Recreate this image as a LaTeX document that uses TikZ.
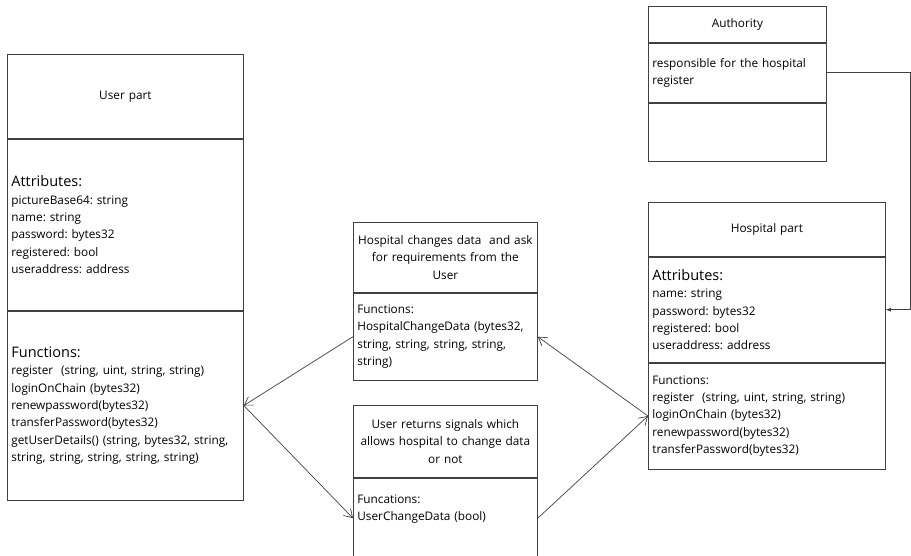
\documentclass[tikz,border=0pt]{standalone}
\usepackage{fontspec}
\setmainfont{Open Sans}
\usetikzlibrary{arrows.meta}
\frenchspacing

\newcommand{\compttl}[1]{{\fontsize{14.5}{17}\selectfont #1}}

\tikzset{
  compart/.style={draw=black!75,line width=.8pt,anchor=north west,inner xsep=4pt,inner ysep=0pt,
    align=left,text=black,font=\fontsize{11.8}{17.4}\selectfont},
  link/.style={draw=black!75,line width=.7pt},
  barb/.style={-{Straight Barb[length=8pt,width=10pt]}}
}

\begin{document}
\begin{tikzpicture}[x=1pt,y=-1pt]
  \useasboundingbox (0,0) rectangle (911,555);

  % user part
  \node[compart,text width=228pt,minimum height=84pt,align=center] (uhead) at (7,54) {User part};
  \node[compart,text width=228pt,minimum height=171pt] (uattr) at (uhead.south west)
    {\compttl{Attributes:}\\pictureBase64: string\\name: string\\password: bytes32\\registered: bool\\useraddress: address};
  \node[compart,text width=228pt,minimum height=189pt] (ufun) at (uattr.south west)
    {\compttl{Functions:}\\register~ (string, uint, string, string)\\loginOnChain (bytes32)\\renewpassword(bytes32)\\transferPassword(bytes32)\\getUserDetails() (string, bytes32, string,\\string, string, string, string, string)};

  % hospital changes data
  \node[compart,text width=176pt,minimum height=70pt,align=center] (hchead) at (353,222)
    {Hospital changes data~ and ask\\for requirements from the\\User};
  \node[compart,text width=176pt,minimum height=87pt] (hcfun) at (hchead.south west)
    {Functions:\\HospitalChangeData (bytes32,\\string, string, string, string,\\string)};

  % user returns signals
  \node[compart,text width=176pt,minimum height=72pt,align=center] (uchead) at (353,405)
    {User returns signals which\\allows hospital to change data\\or not};
  \node[compart,text width=176pt,minimum height=80pt,text depth=38pt] (ucfun) at (uchead.south west)
    {Funcations:\\UserChangeData (bool)};

  % authority
  \node[compart,text width=170pt,minimum height=36pt,align=center] (ahead) at (648,6) {Authority};
  \node[compart,text width=170pt,minimum height=59pt] (aresp) at (ahead.south west)
    {responsible for the hospital\\register};
  \node[compart,text width=170pt,minimum height=58pt] (aempty) at (aresp.south west) {};

  % hospital part
  \node[compart,text width=229pt,minimum height=54pt,align=center] (hphead) at (648,202) {Hospital part};
  \node[compart,text width=229pt,minimum height=105pt] (hpattr) at (hphead.south west)
    {\compttl{Attributes:}\\name: string\\password: bytes32\\registered: bool\\useraddress: address};
  \node[compart,text width=229pt,minimum height=106pt] (hpfun) at (hpattr.south west)
    {Functions:\\register~ (string, uint, string, string)\\loginOnChain (bytes32)\\renewpassword(bytes32)\\transferPassword(bytes32)};

  % connectors
  \draw[link,barb] (hcfun.west) -- (ufun.east);
  \draw[link,barb] (ufun.east) -- (ucfun.west);
  \draw[link,barb] (hpfun.west) -- (hcfun.east);
  \draw[link,barb] (ucfun.east) -- (hpfun.west);
  \draw[link,-{Latex[length=5pt,width=4pt]}] (aresp.east) -- ++(84,0) |- (hpattr.east);
\end{tikzpicture}
\end{document}
